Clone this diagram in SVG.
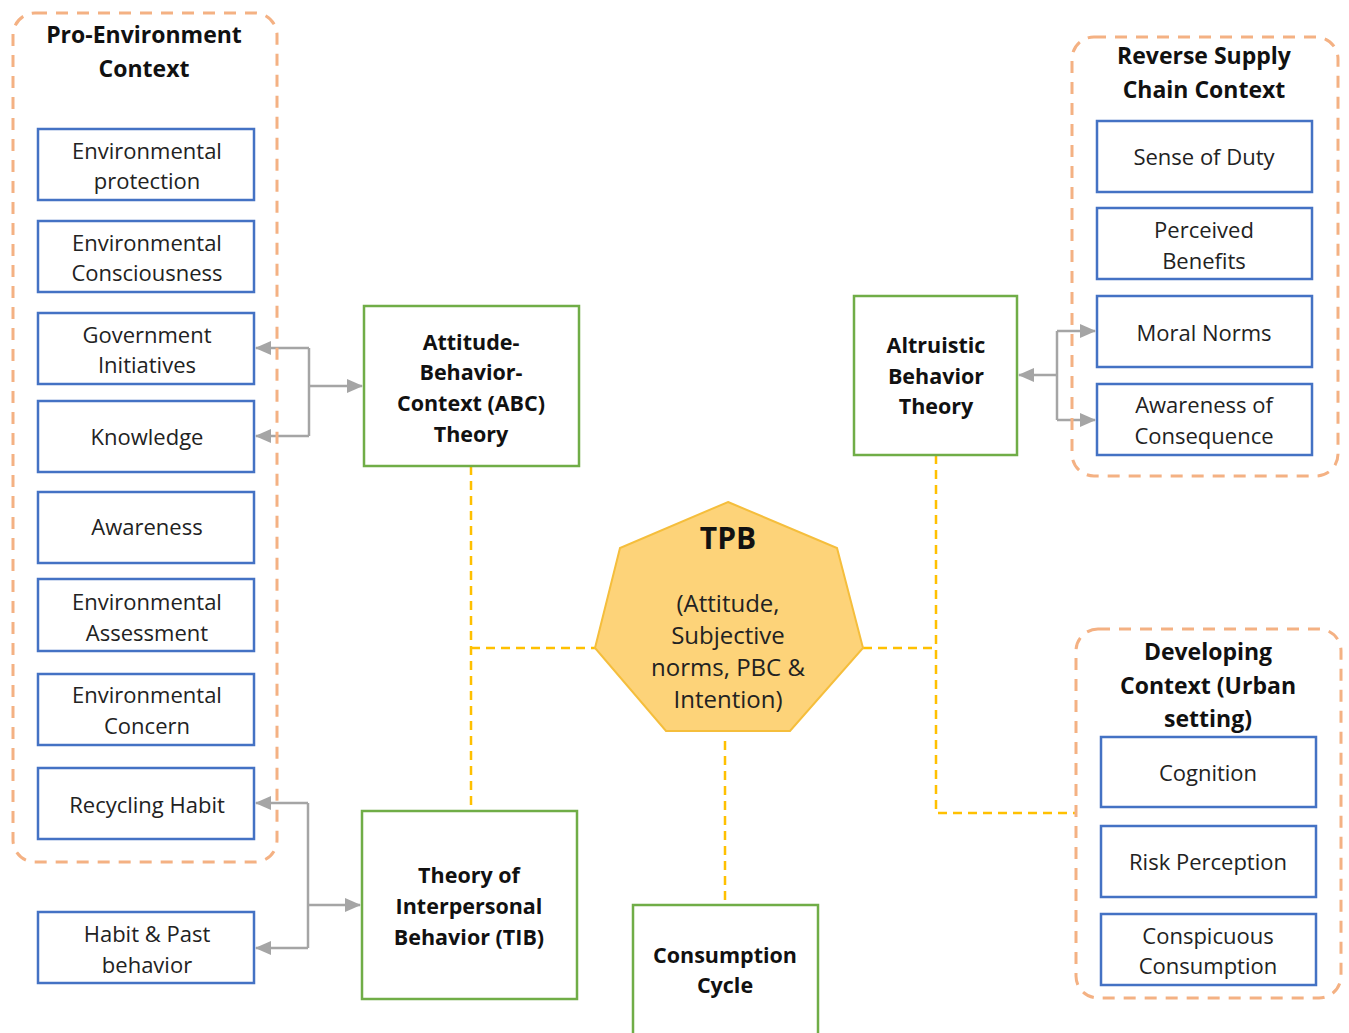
<svg xmlns="http://www.w3.org/2000/svg" width="1349" height="1033" viewBox="0 0 1349 1033">
<style>
.ctx{fill:none;stroke:#F4B183;stroke-width:3;stroke-dasharray:12,9}
.bx{fill:#fff;stroke:#4472C4;stroke-width:2.5}
.th{fill:#fff;stroke:#70AD47;stroke-width:2.5}
.t{font-family:"Open Sans","Liberation Sans",sans-serif;font-size:22px;fill:#222;text-anchor:middle}
.b{font-family:"Open Sans","Liberation Sans",sans-serif;font-size:21.5px;font-weight:bold;fill:#111;text-anchor:middle}
.h{font-family:"Open Sans","Liberation Sans",sans-serif;font-size:23px;font-weight:bold;fill:#111;text-anchor:middle}
.p{font-family:"Open Sans","Liberation Sans",sans-serif;font-size:24px;fill:#222;text-anchor:middle}
.ar{fill:none;stroke:#A5A5A5;stroke-width:2.5}
.yd{fill:none;stroke:#FFC000;stroke-width:2.5;stroke-dasharray:9,6}
</style>
<defs>
<marker id="ah2" markerWidth="16" markerHeight="14" refX="15" refY="7" orient="auto" markerUnits="userSpaceOnUse" viewBox="0 0 16 14">
<path d="M0,0 L16,7 L0,14 Z" fill="#A5A5A5"/>
</marker>
</defs>

<g id="connectors">
<path class="yd" d="M471,466 V810"/>
<path class="yd" d="M471,648 H595"/>
<path class="yd" d="M863,648 H936"/>
<path class="yd" d="M936,455 V813 H1076"/>
<path class="yd" d="M725,741 V905"/>
<path class="ar" d="M309,348 V436"/>
<path class="ar" d="M309,348 H256" marker-end="url(#ah2)"/>
<path class="ar" d="M309,436 H256" marker-end="url(#ah2)"/>
<path class="ar" d="M309,386 H362" marker-end="url(#ah2)"/>
<path class="ar" d="M308,803 V948"/>
<path class="ar" d="M308,803 H256" marker-end="url(#ah2)"/>
<path class="ar" d="M308,948 H256" marker-end="url(#ah2)"/>
<path class="ar" d="M308,905 H360" marker-end="url(#ah2)"/>
<path class="ar" d="M1057,331 V420"/>
<path class="ar" d="M1057,375 H1019" marker-end="url(#ah2)"/>
<path class="ar" d="M1057,331 H1095" marker-end="url(#ah2)"/>
<path class="ar" d="M1057,420 H1095" marker-end="url(#ah2)"/>
</g>

<g id="pro-environment-context">
<rect class="ctx" x="13" y="13" width="264" height="849" rx="22"/>
<text class="h" x="144" y="43">Pro-Environment</text>
<text class="h" x="144" y="77">Context</text>
</g>
<g id="env-protection"><rect class="bx" x="38" y="129" width="216" height="71"/><text class="t" x="147" y="159">Environmental</text><text class="t" x="147" y="189">protection</text></g>
<g id="env-consciousness"><rect class="bx" x="38" y="221" width="216" height="71"/><text class="t" x="147" y="251">Environmental</text><text class="t" x="147" y="281">Consciousness</text></g>
<g id="gov-initiatives"><rect class="bx" x="38" y="313" width="216" height="71"/><text class="t" x="147" y="343">Government</text><text class="t" x="147" y="373">Initiatives</text></g>
<g id="knowledge"><rect class="bx" x="38" y="401" width="216" height="71"/><text class="t" x="147" y="445">Knowledge</text></g>
<g id="awareness"><rect class="bx" x="38" y="492" width="216" height="71"/><text class="t" x="147" y="535">Awareness</text></g>
<g id="env-assessment"><rect class="bx" x="38" y="579" width="216" height="72"/><text class="t" x="147" y="610">Environmental</text><text class="t" x="147" y="641">Assessment</text></g>
<g id="env-concern"><rect class="bx" x="38" y="674" width="216" height="71"/><text class="t" x="147" y="703">Environmental</text><text class="t" x="147" y="734">Concern</text></g>
<g id="recycling-habit"><rect class="bx" x="38" y="768" width="216" height="71"/><text class="t" x="147" y="813">Recycling Habit</text></g>
<g id="habit-past"><rect class="bx" x="38" y="912" width="216" height="71"/><text class="t" x="147" y="942">Habit &amp; Past</text><text class="t" x="147" y="973">behavior</text></g>

<g id="abc-theory"><rect class="th" x="364" y="306" width="215" height="160"/>
<text class="b" x="471" y="350">Attitude-</text><text class="b" x="471" y="380">Behavior-</text><text class="b" x="471" y="411">Context (ABC)</text><text class="b" x="471" y="442">Theory</text></g>

<g id="tib"><rect class="th" x="362" y="811" width="215" height="188"/>
<text class="b" x="469" y="883">Theory of</text><text class="b" x="469" y="914">Interpersonal</text><text class="b" x="469" y="945">Behavior (TIB)</text></g>

<g id="consumption-cycle"><rect class="th" x="633" y="905" width="185" height="140"/>
<text class="b" x="725" y="963">Consumption</text><text class="b" x="725" y="993">Cycle</text></g>

<g id="tpb">
<polygon points="728,502 837,548 863,648 790,731 666,731 595,648 620,548" fill="#FDD379" stroke="#F5BE3C" stroke-width="2"/>
<text x="728" y="549" font-family="'Open Sans','Liberation Sans',sans-serif" font-size="30" font-weight="bold" fill="#111" text-anchor="middle">TPB</text>
<text class="p" x="728" y="612">(Attitude,</text>
<text class="p" x="728" y="644">Subjective</text>
<text class="p" x="728" y="676">norms, PBC &amp;</text>
<text class="p" x="728" y="708">Intention)</text>
</g>

<g id="altruistic"><rect class="th" x="854" y="296" width="163" height="159"/>
<text class="b" x="936" y="353">Altruistic</text><text class="b" x="936" y="384">Behavior</text><text class="b" x="936" y="414">Theory</text></g>

<g id="reverse-supply-chain-context">
<rect class="ctx" x="1072" y="37" width="266" height="439" rx="22"/>
<text class="h" x="1204" y="64">Reverse Supply</text>
<text class="h" x="1204" y="98">Chain Context</text>
</g>
<g id="sense-of-duty"><rect class="bx" x="1097" y="121" width="215" height="71"/><text class="t" x="1204" y="165">Sense of Duty</text></g>
<g id="perceived-benefits"><rect class="bx" x="1097" y="208" width="215" height="71"/><text class="t" x="1204" y="238">Perceived</text><text class="t" x="1204" y="269">Benefits</text></g>
<g id="moral-norms"><rect class="bx" x="1097" y="296" width="215" height="71"/><text class="t" x="1204" y="341">Moral Norms</text></g>
<g id="awareness-consequence"><rect class="bx" x="1097" y="384" width="215" height="71"/><text class="t" x="1204" y="413">Awareness of</text><text class="t" x="1204" y="444">Consequence</text></g>

<g id="developing-context">
<rect class="ctx" x="1076" y="629" width="265" height="369" rx="22"/>
<text class="h" x="1208" y="660">Developing</text>
<text class="h" x="1208" y="694">Context (Urban</text>
<text class="h" x="1208" y="727">setting)</text>
</g>
<g id="cognition"><rect class="bx" x="1101" y="737" width="215" height="70"/><text class="t" x="1208" y="781">Cognition</text></g>
<g id="risk-perception"><rect class="bx" x="1101" y="826" width="215" height="71"/><text class="t" x="1208" y="870">Risk Perception</text></g>
<g id="conspicuous-consumption"><rect class="bx" x="1101" y="914" width="215" height="71"/><text class="t" x="1208" y="944">Conspicuous</text><text class="t" x="1208" y="974">Consumption</text></g>
</svg>
